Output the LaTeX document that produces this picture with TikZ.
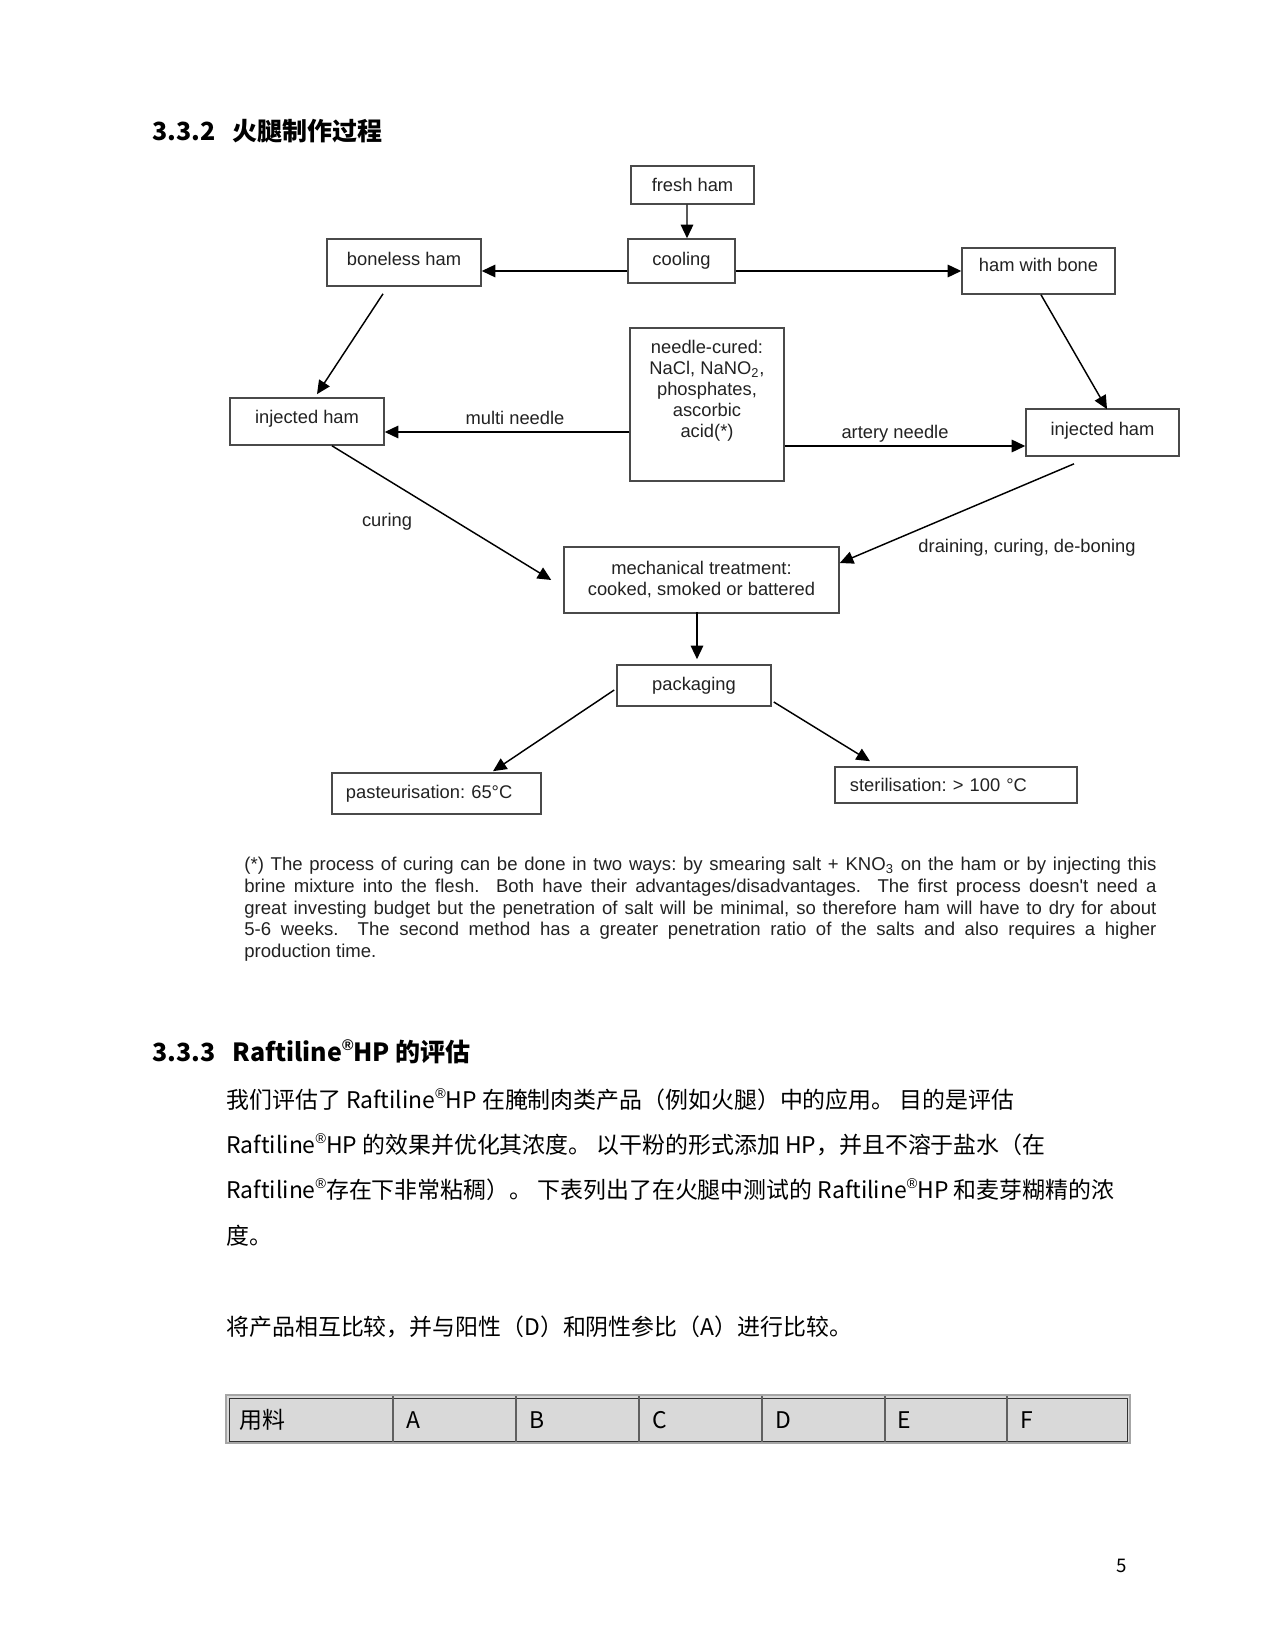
\documentclass[tikz,border=0pt]{standalone}
\usepackage{fontspec}
\setmainfont{Liberation Sans}
\newfontfamily\cjk{Noto Sans CJK SC}
\newfontfamily\latinsym{Liberation Sans}
\usetikzlibrary{arrows.meta}
\definecolor{boxgray}{HTML}{4A4A4A}
\definecolor{txtgray}{HTML}{222222}
\definecolor{tabgray}{HTML}{D9D9D9}
\newcommand{\dfont}{\frenchspacing\fontsize{8.8}{10.1}\selectfont}
\newcommand{\fnfont}{\frenchspacing\fontsize{8.9}{10.4}\selectfont}
\newcommand{\bodyfont}{\cjk\fontsize{11}{13}\selectfont}
\newcommand{\headfont}{\cjk\bfseries\fontsize{12}{14}\selectfont}
\newcommand{\reg}{\raisebox{0.42em}{\latinsym\fontsize{0.62em}{0.62em}\selectfont ®}}
\tikzset{
  box/.style={draw=boxgray, line width=0.75pt, rectangle, inner sep=0pt, font=\dfont, text=txtgray, align=center},
  raise/.style={text height=6.4pt, text depth=#1},
  arr/.style={draw=black, line width=0.7pt, -{Triangle[length=6.5pt,width=6pt]}},
  lbl/.style={font=\dfont, text=txtgray, inner sep=0pt},
  body/.style={font=\bodyfont, text=black, inner sep=0pt, anchor=base west},
  head/.style={font=\headfont, text=black, inner sep=0pt, anchor=base west},
  tabtxt/.style={font=\bodyfont, text=black, inner sep=0pt, anchor=base west},
}
\begin{document}
\begin{tikzpicture}[x=0.48pt,y=-0.48pt]
\useasboundingbox[fill=white] (0,0) rectangle (1275,1650);

% heading 1
\node[head] (h1) at (152,141) {3.3.2\hspace{8.2pt}火腿制作过程};

% boxes
\node[box, minimum width=59pt, minimum height=18.2pt] (fresh) at (692.5,185) {fresh ham};
\node[box, raise=1.9pt, minimum width=51.4pt, minimum height=21.1pt] (cool) at (681.5,261) {cooling};
\node[box, raise=3.4pt, minimum width=73.9pt, minimum height=22.6pt] (bone) at (404,262.5) {boneless ham};
\node[box, raise=5.8pt, minimum width=73.4pt, minimum height=22.1pt] (hwb) at (1038.5,271) {ham with bone};
\node[box, minimum width=73.9pt, minimum height=73.4pt] (needle) at (707,404.5) {};
\node[lbl, anchor=north, align=center] (needletxt) at (707,340) {needle-cured:\\NaCl, NaNO\textsubscript{2},\\phosphates,\\ascorbic\\acid(*)};
\node[box, raise=4.3pt, minimum width=73.9pt, minimum height=22.6pt] (injL) at (307,421.5) {injected ham};
\node[box, raise=3.4pt, minimum width=73.4pt, minimum height=22.6pt] (injR) at (1102.5,432.5) {injected ham};
\node[box, minimum width=132pt, minimum height=31.7pt] (mech) at (701.5,580) {mechanical treatment:\\cooked, smoked or battered};
\node[box, minimum width=73.9pt, minimum height=19.7pt] (pack) at (694,685.5) {packaging};
\node[box, minimum height=19.7pt, text width=86.9pt, inner xsep=6.7pt, align=left] (past) at (436.5,793.5) {pasteurisation: 65°C};
\node[box, minimum height=17.3pt, text width=101.8pt, inner xsep=7.2pt, align=left] (steril) at (956,785) {sterilisation: > 100 °C};

% connectors
\draw[arr] ([shift={(-5.5,0)}]fresh.south) -- ([shift={(5.5,0)}]cool.north);
\draw[arr] (cool.west |- hwb.west) -- (bone.east |- hwb.west);
\draw[arr] (cool.east |- hwb.west) -- (hwb.west);
\draw[arr] ([shift={(-21,7)}]bone.south) -- ([shift={(10,-3)}]injL.north);
\draw[arr] ([shift={(2.5,0)}]hwb.south) -- ([shift={(4.5,1)}]injR.north);
\draw[arr] ([shift={(0,27.5)}]needle.west) -- ([shift={(0,10.5)}]injL.east);
\draw[arr] ([shift={(0,41.5)}]needle.east) -- ([shift={(0,13.5)}]injR.west);
\draw[arr] ([shift={(25,0)}]injL.south) -- ([shift={(-12,0)}]mech.west);
\draw[arr] ([shift={(-28.5,7)}]injR.south) -- ([shift={(0,-17)}]mech.east);
\draw[arr] ([shift={(-4.5,-2)}]mech.south) -- ([shift={(3,-5)}]pack.north);
\draw[arr] ([shift={(-2,4.5)}]pack.west) -- ([shift={(56.5,-1)}]past.north);
\draw[arr] ([shift={(2,16.5)}]pack.east) -- ([shift={(-86,-5)}]steril.north);

% connector labels
\node[lbl] (lmulti) at (515,418) {multi needle};
\node[lbl] (lartery) at (895,434) {artery needle};
\node[lbl] (lcuring) at (387,522) {curing};
\node[lbl] (ldrain) at (1027,548) {draining, curing, de-boning};

% footnote
\node[anchor=north west, inner sep=0pt, text width=437.8pt, align=justify, font=\fnfont, text=txtgray] (note) at (244,857) {%
(*) The process of curing can be done in two ways: by smearing salt + KNO\textsubscript{3} on the ham or by injecting this\linebreak
brine mixture into the flesh.\ \ Both have their advantages/disadvantages.\ \ The first process doesn\textquotesingle t need a\linebreak
great investing budget but the penetration of salt will be minimal, so therefore ham will have to dry for about\linebreak
5-6 weeks.\ \ The second method has a greater penetration ratio of the salts and also requires a higher\linebreak
production time.};

% heading 2
\node[head] (h2) at (152,1061) {3.3.3\hspace{8.2pt}Raftiline\reg HP 的评估};

% body
\node[body] (p1) at (226,1108) {我们评估了 Raftiline\reg HP 在腌制肉类产品（例如火腿）中的应用。 目的是评估};
\node[body] (p2) at (226,1153) {Raftiline\reg HP 的效果并优化其浓度。 以干粉的形式添加 HP，并且不溶于盐水（在};
\node[body] (p3) at (226,1198) {Raftiline\reg 存在下非常粘稠）。 下表列出了在火腿中测试的 Raftiline\reg HP 和麦芽糊精的浓};
\node[body] (p4) at (226,1244) {度。};
\node[body] (p5) at (226,1335) {将产品相互比较，并与阳性（D）和阴性参比（A）进行比较。};

% table
\fill[tabgray] (226,1395) rectangle (1130,1443);
\draw[gray!70, line width=1.2pt] (226,1395) rectangle (1130,1443);
\draw[black!80, line width=0.45pt] (229,1398) rectangle (1127,1441);
\foreach \cx in {393,516,639,762,885,1007} {
  \draw[gray!75!black, line width=0.7pt] (\cx,1396) -- (\cx,1442);
}
\node[tabtxt] (t0) at (239,1428) {用料};
\node[tabtxt] (t1) at (406,1428) {A};
\node[tabtxt] (t2) at (529,1428) {B};
\node[tabtxt] (t3) at (652,1428) {C};
\node[tabtxt] (t4) at (775,1428) {D};
\node[tabtxt] (t5) at (897,1428) {E};
\node[tabtxt] (t6) at (1020,1428) {F};

% page number
\node[font=\cjk\fontsize{9}{11}\selectfont, inner sep=0pt, anchor=base] (pg) at (1122,1572) {5};
\end{tikzpicture}
\end{document}
